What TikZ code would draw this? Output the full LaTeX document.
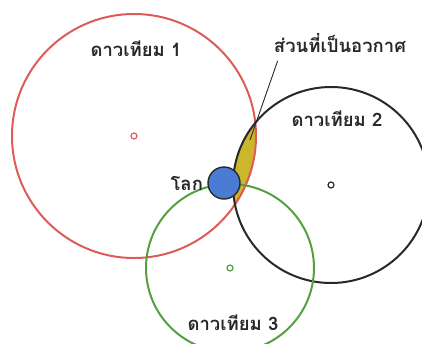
\documentclass[tikz,border=0pt]{standalone}
\usepackage{fontspec}
\newfontfamily\thaifont[Script=Thai]{Loma}
\usetikzlibrary{positioning, calc}

\definecolor{orbred}{RGB}{221,92,88}
\definecolor{orbgreen}{RGB}{84,160,64}
\definecolor{orbdark}{RGB}{40,40,40}
\definecolor{earthblue}{RGB}{74,124,212}
\definecolor{spaceyellow}{RGB}{204,182,44}

\begin{document}
\begin{tikzpicture}[x=1pt, y=-1pt, line width=2pt,
  orbit/.style={circle, draw, inner sep=0pt, minimum size=#1},
  centre/.style={circle, draw, line width=1.2pt, inner sep=0pt, minimum size=6pt},
  lbl/.style={font=\thaifont\fontsize{18.5}{20}\selectfont\bfseries, text=orbdark}]
  \useasboundingbox (0,0) rectangle (422,343);
  \clip (0,0) rectangle (422,343);
  % space part: inside orbit 1 and orbit 2
  \begin{scope}
    \clip (134,136) circle (122pt);
    \fill[spaceyellow] (331,185) circle (98pt);
  \end{scope}
  \node[orbit=244pt, orbred] (sat1) at (134,136) {};
  \node[orbit=196pt, orbdark] (sat2) at (331,185) {};
  \node[orbit=168pt, orbgreen] (sat3) at (230,268) {};
  \node[centre, orbred] (c1) at (sat1.center) {};
  \node[centre, orbdark] (c2) at (sat2.center) {};
  \node[centre, orbgreen] (c3) at (sat3.center) {};
  \node[circle, draw=orbdark, fill=earthblue, line width=1.4pt, inner sep=0pt, minimum size=32pt] (earth) at (224,183) {};
  \node[lbl, left=0pt of earth] (earthlbl) {โลก};
  \node[lbl] (sat1lbl) at (136,49) {ดาวเทียม 1};
  \node[lbl] (sat2lbl) at (337,119) {ดาวเทียม 2};
  \node[lbl] (sat3lbl) at (233,323) {ดาวเทียม 3};
  \node[lbl] (spacelbl) at (340,43) {ส่วนที่เป็นอวกาศ};
  \coordinate (tip) at (250,140);
  \draw[orbdark, line width=0.9pt] ($(spacelbl.south west)+(8,4)$) -- (tip);
\end{tikzpicture}
\end{document}
